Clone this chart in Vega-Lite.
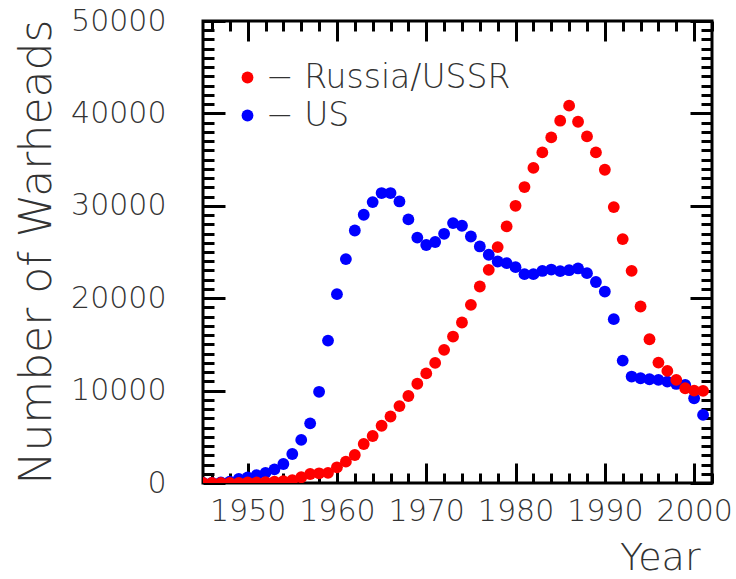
{
  "$schema": "https://vega.github.io/schema/vega-lite/v6.json",
  "width": 509,
  "height": 462,
  "autosize": {"type": "none"},
  "padding": {"left": 203, "top": 21, "right": 24, "bottom": 96},
  "background": "white",
  "config": {
    "view": {"stroke": "black", "strokeWidth": 3},
    "axis": {
      "grid": false,
      "domain": false,
      "tickColor": "black",
      "tickWidth": 3,
      "labelFont": "DejaVu Sans",
      "labelFontSize": 30,
      "labelFontWeight": 200,
      "labelColor": "#333333",
      "titleFont": "DejaVu Sans",
      "titleFontWeight": 200,
      "titleColor": "#333333"
    },
    "legend": {
      "labelFont": "DejaVu Sans",
      "labelFontSize": 33,
      "labelFontWeight": 200,
      "labelColor": "#333333"
    }
  },
  "data": {
    "values": [
      {"year": 1945, "country": "US", "warheads": 10},
      {"year": 1946, "country": "US", "warheads": 20},
      {"year": 1947, "country": "US", "warheads": 50},
      {"year": 1948, "country": "US", "warheads": 150},
      {"year": 1949, "country": "US", "warheads": 450},
      {"year": 1950, "country": "US", "warheads": 600},
      {"year": 1951, "country": "US", "warheads": 850},
      {"year": 1952, "country": "US", "warheads": 1100},
      {"year": 1953, "country": "US", "warheads": 1480},
      {"year": 1954, "country": "US", "warheads": 2060},
      {"year": 1955, "country": "US", "warheads": 3140},
      {"year": 1956, "country": "US", "warheads": 4660},
      {"year": 1957, "country": "US", "warheads": 6460},
      {"year": 1958, "country": "US", "warheads": 9870},
      {"year": 1959, "country": "US", "warheads": 15410},
      {"year": 1960, "country": "US", "warheads": 20440},
      {"year": 1961, "country": "US", "warheads": 24230},
      {"year": 1962, "country": "US", "warheads": 27330},
      {"year": 1963, "country": "US", "warheads": 29030},
      {"year": 1964, "country": "US", "warheads": 30400},
      {"year": 1965, "country": "US", "warheads": 31380},
      {"year": 1966, "country": "US", "warheads": 31380},
      {"year": 1967, "country": "US", "warheads": 30470},
      {"year": 1968, "country": "US", "warheads": 28530},
      {"year": 1969, "country": "US", "warheads": 26560},
      {"year": 1970, "country": "US", "warheads": 25760},
      {"year": 1971, "country": "US", "warheads": 26080},
      {"year": 1972, "country": "US", "warheads": 26970},
      {"year": 1973, "country": "US", "warheads": 28130},
      {"year": 1974, "country": "US", "warheads": 27840},
      {"year": 1975, "country": "US", "warheads": 26680},
      {"year": 1976, "country": "US", "warheads": 25600},
      {"year": 1977, "country": "US", "warheads": 24700},
      {"year": 1978, "country": "US", "warheads": 23970},
      {"year": 1979, "country": "US", "warheads": 23790},
      {"year": 1980, "country": "US", "warheads": 23360},
      {"year": 1981, "country": "US", "warheads": 22600},
      {"year": 1982, "country": "US", "warheads": 22600},
      {"year": 1983, "country": "US", "warheads": 22950},
      {"year": 1984, "country": "US", "warheads": 23100},
      {"year": 1985, "country": "US", "warheads": 22930},
      {"year": 1986, "country": "US", "warheads": 23030},
      {"year": 1987, "country": "US", "warheads": 23220},
      {"year": 1988, "country": "US", "warheads": 22710},
      {"year": 1989, "country": "US", "warheads": 21750},
      {"year": 1990, "country": "US", "warheads": 20720},
      {"year": 1991, "country": "US", "warheads": 17730},
      {"year": 1992, "country": "US", "warheads": 13250},
      {"year": 1993, "country": "US", "warheads": 11520},
      {"year": 1994, "country": "US", "warheads": 11340},
      {"year": 1995, "country": "US", "warheads": 11230},
      {"year": 1996, "country": "US", "warheads": 11160},
      {"year": 1997, "country": "US", "warheads": 10970},
      {"year": 1998, "country": "US", "warheads": 10720},
      {"year": 1999, "country": "US", "warheads": 10610},
      {"year": 2000, "country": "US", "warheads": 9170},
      {"year": 2001, "country": "US", "warheads": 7370},
      {"year": 1945, "country": "Russia/USSR", "warheads": 0},
      {"year": 1946, "country": "Russia/USSR", "warheads": 0},
      {"year": 1947, "country": "Russia/USSR", "warheads": 0},
      {"year": 1948, "country": "Russia/USSR", "warheads": 0},
      {"year": 1949, "country": "Russia/USSR", "warheads": 0},
      {"year": 1950, "country": "Russia/USSR", "warheads": 50},
      {"year": 1951, "country": "Russia/USSR", "warheads": 50},
      {"year": 1952, "country": "Russia/USSR", "warheads": 100},
      {"year": 1953, "country": "Russia/USSR", "warheads": 150},
      {"year": 1954, "country": "Russia/USSR", "warheads": 200},
      {"year": 1955, "country": "Russia/USSR", "warheads": 300},
      {"year": 1956, "country": "Russia/USSR", "warheads": 620},
      {"year": 1957, "country": "Russia/USSR", "warheads": 970},
      {"year": 1958, "country": "Russia/USSR", "warheads": 1050},
      {"year": 1959, "country": "Russia/USSR", "warheads": 1100},
      {"year": 1960, "country": "Russia/USSR", "warheads": 1700},
      {"year": 1961, "country": "Russia/USSR", "warheads": 2310},
      {"year": 1962, "country": "Russia/USSR", "warheads": 3030},
      {"year": 1963, "country": "Russia/USSR", "warheads": 4220},
      {"year": 1964, "country": "Russia/USSR", "warheads": 5090},
      {"year": 1965, "country": "Russia/USSR", "warheads": 6200},
      {"year": 1966, "country": "Russia/USSR", "warheads": 7200},
      {"year": 1967, "country": "Russia/USSR", "warheads": 8320},
      {"year": 1968, "country": "Russia/USSR", "warheads": 9420},
      {"year": 1969, "country": "Russia/USSR", "warheads": 10740},
      {"year": 1970, "country": "Russia/USSR", "warheads": 11860},
      {"year": 1971, "country": "Russia/USSR", "warheads": 13000},
      {"year": 1972, "country": "Russia/USSR", "warheads": 14410},
      {"year": 1973, "country": "Russia/USSR", "warheads": 15850},
      {"year": 1974, "country": "Russia/USSR", "warheads": 17370},
      {"year": 1975, "country": "Russia/USSR", "warheads": 19280},
      {"year": 1976, "country": "Russia/USSR", "warheads": 21270},
      {"year": 1977, "country": "Russia/USSR", "warheads": 23070},
      {"year": 1978, "country": "Russia/USSR", "warheads": 25530},
      {"year": 1979, "country": "Russia/USSR", "warheads": 27770},
      {"year": 1980, "country": "Russia/USSR", "warheads": 30000},
      {"year": 1981, "country": "Russia/USSR", "warheads": 32030},
      {"year": 1982, "country": "Russia/USSR", "warheads": 34100},
      {"year": 1983, "country": "Russia/USSR", "warheads": 35780},
      {"year": 1984, "country": "Russia/USSR", "warheads": 37400},
      {"year": 1985, "country": "Russia/USSR", "warheads": 39210},
      {"year": 1986, "country": "Russia/USSR", "warheads": 40840},
      {"year": 1987, "country": "Russia/USSR", "warheads": 39100},
      {"year": 1988, "country": "Russia/USSR", "warheads": 37510},
      {"year": 1989, "country": "Russia/USSR", "warheads": 35780},
      {"year": 1990, "country": "Russia/USSR", "warheads": 33900},
      {"year": 1991, "country": "Russia/USSR", "warheads": 29860},
      {"year": 1992, "country": "Russia/USSR", "warheads": 26400},
      {"year": 1993, "country": "Russia/USSR", "warheads": 22960},
      {"year": 1994, "country": "Russia/USSR", "warheads": 19100},
      {"year": 1995, "country": "Russia/USSR", "warheads": 15560},
      {"year": 1996, "country": "Russia/USSR", "warheads": 13030},
      {"year": 1997, "country": "Russia/USSR", "warheads": 12130},
      {"year": 1998, "country": "Russia/USSR", "warheads": 11160},
      {"year": 1999, "country": "Russia/USSR", "warheads": 10250},
      {"year": 2000, "country": "Russia/USSR", "warheads": 10000},
      {"year": 2001, "country": "Russia/USSR", "warheads": 9970}
    ]
  },
  "layer": [
    {
      "mark": {"type": "point", "filled": true, "size": 140, "opacity": 1, "strokeWidth": 0, "clip": true},
      "encoding": {
        "x": {
          "field": "year", "type": "quantitative",
          "scale": {"domain": [1945, 2002], "nice": false, "zero": false},
          "axis": {
            "orient": "bottom",
            "values": [1950, 1960, 1970, 1980, 1990, 2000],
            "format": "d",
            "tickSize": -20,
            "labelPadding": 33,
            "labelBaseline": "top",
            "title": "Year",
            "titleFontSize": 38,
            "titleAnchor": "end",
            "titleAlign": "right",
            "titleBaseline": "alphabetic",
            "titleX": 497,
            "titleY": 86
          }
        },
        "y": {
          "field": "warheads", "type": "quantitative",
          "scale": {"domain": [0, 50000], "nice": false},
          "axis": {
            "orient": "left",
            "values": [0, 10000, 20000, 30000, 40000, 50000],
            "format": "d",
            "tickSize": -22,
            "labelPadding": 59,
            "title": "Number of Warheads",
            "titleFontSize": 44,
            "titleAngle": 270,
            "titleAlign": "left",
            "titleBaseline": "alphabetic",
            "titleX": -153,
            "titleY": 463
          }
        },
        "color": {
          "field": "country", "type": "nominal",
          "scale": {"domain": ["Russia/USSR", "US"], "range": ["#ff0000", "#0000ff"]},
          "legend": {
            "orient": "none",
            "legendX": 28,
            "legendY": 40,
            "title": null,
            "symbolType": "circle",
            "symbolSize": 140,
            "symbolStrokeWidth": 0,
            "labelOffset": 2,
            "labelLimit": 400,
            "rowPadding": 4,
            "labelExpr": "'− ' + datum.label"
          }
        }
      }
    },
    {
      "mark": {"type": "point", "opacity": 0},
      "encoding": {
        "x": {
          "field": "year", "type": "quantitative",
          "axis": {
            "orient": "bottom",
            "values": [1946, 1948, 1950, 1952, 1954, 1956, 1958, 1960, 1962, 1964, 1966, 1968, 1970, 1972, 1974, 1976, 1978, 1980, 1982, 1984, 1986, 1988, 1990, 1992, 1994, 1996, 1998, 2000, 2002],
            "tickSize": -10,
            "labels": false,
            "title": null
          }
        },
        "y": {
          "field": "warheads", "type": "quantitative",
          "axis": {
            "orient": "left",
            "values": [1000, 2000, 3000, 4000, 5000, 6000, 7000, 8000, 9000, 11000, 12000, 13000, 14000, 15000, 16000, 17000, 18000, 19000, 21000, 22000, 23000, 24000, 25000, 26000, 27000, 28000, 29000, 31000, 32000, 33000, 34000, 35000, 36000, 37000, 38000, 39000, 41000, 42000, 43000, 44000, 45000, 46000, 47000, 48000, 49000],
            "tickSize": -11,
            "labels": false,
            "title": null
          }
        }
      }
    },
    {
      "mark": {"type": "point", "opacity": 0},
      "encoding": {
        "x": {
          "field": "year", "type": "quantitative",
          "axis": {
            "orient": "top",
            "values": [1950, 1960, 1970, 1980, 1990, 2000],
            "tickSize": -20,
            "labels": false,
            "title": null
          }
        },
        "y": {
          "field": "warheads", "type": "quantitative",
          "axis": {
            "orient": "right",
            "values": [0, 10000, 20000, 30000, 40000, 50000],
            "tickSize": -22,
            "labels": false,
            "title": null
          }
        }
      }
    },
    {
      "mark": {"type": "point", "opacity": 0},
      "encoding": {
        "x": {
          "field": "year", "type": "quantitative",
          "axis": {
            "orient": "top",
            "values": [1946, 1948, 1950, 1952, 1954, 1956, 1958, 1960, 1962, 1964, 1966, 1968, 1970, 1972, 1974, 1976, 1978, 1980, 1982, 1984, 1986, 1988, 1990, 1992, 1994, 1996, 1998, 2000, 2002],
            "tickSize": -10,
            "labels": false,
            "title": null
          }
        },
        "y": {
          "field": "warheads", "type": "quantitative",
          "axis": {
            "orient": "right",
            "values": [1000, 2000, 3000, 4000, 5000, 6000, 7000, 8000, 9000, 11000, 12000, 13000, 14000, 15000, 16000, 17000, 18000, 19000, 21000, 22000, 23000, 24000, 25000, 26000, 27000, 28000, 29000, 31000, 32000, 33000, 34000, 35000, 36000, 37000, 38000, 39000, 41000, 42000, 43000, 44000, 45000, 46000, 47000, 48000, 49000],
            "tickSize": -11,
            "labels": false,
            "title": null
          }
        }
      }
    }
  ],
  "resolve": {"axis": {"x": "independent", "y": "independent"}}
}
